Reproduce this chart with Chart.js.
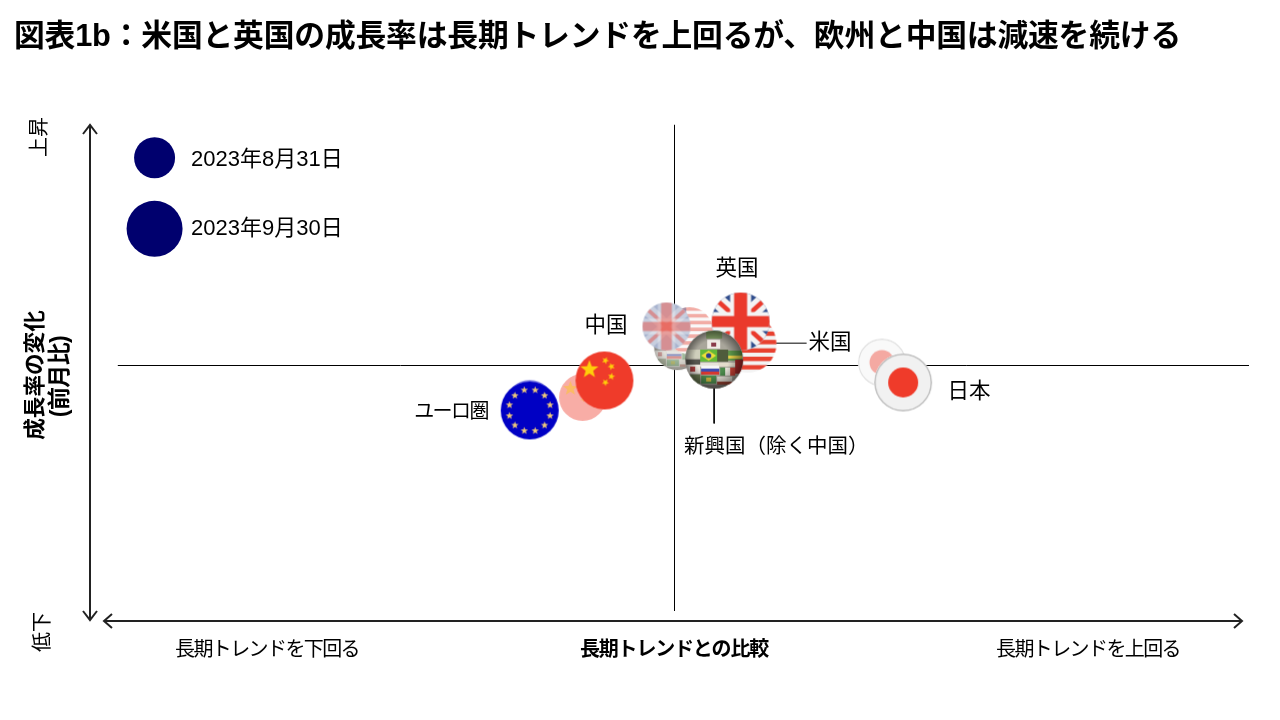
<!DOCTYPE html>
<html lang="ja">
<head>
<meta charset="utf-8">
<title>図表1b</title>
<script src="https://cdn.jsdelivr.net/npm/chart.js@4/dist/chart.umd.min.js"></script>
<style>
  html, body { margin: 0; background: #fff; }
  #wrap { position: relative; width: 1280px; height: 720px; overflow: hidden; }
  canvas { position: absolute; left: 0; top: 0; }
  h1 {
    position: absolute; left: 14px; top: 14px; margin: 0; white-space: nowrap;
    font: bold 30.8px/44px "Liberation Sans", "Noto Sans CJK JP", sans-serif;
    letter-spacing: -0.2px; color: #000; z-index: 2;
  }
</style>
</head>
<body>
<div id="wrap">
  <h1>図表1b：米国と英国の成長率は長期トレンドを上回るが、欧州と中国は減速を続ける</h1>
  <canvas id="chart" width="1280" height="720"></canvas>
</div>
<script>
// values, growth vs long term trend (x) and monthly change (y)
const countries = ['ユーロ圏', '中国', '日本', '米国', '英国', '新興国（除く中国）'];
const flagKeys = ['eu', 'cn', 'jp', 'us', 'uk', 'em'];
const augTrend = [-25.2, -16, 36.1, 2.6, -1.4, 0.5];
const augChange = [-15.4, -13, 1.2, 14.2, 15.9, 7.7];
const augSize = [23.5, 23.5, 24, 23.5, 24, 23.5];
const sepTrend = [-25.2, -12.2, 39.8, 12.7, 11.5, 6.9];
const sepChange = [-18.3, -6.1, -6.9, 8.9, 17.9, 2.4];
const sepSize = [29, 29, 29, 29, 29, 29];
const legendDates = ['2023年8月31日', '2023年9月30日'];
const legendTrend = [-90.5, -90.5];
const legendChange = [84.6, 55.7];
const legendSize = [20.5, 28];

const crossH = [{ x: -96.9, y: 0 }, { x: 100, y: 0 }];
const crossV = [{ x: 0, y: 98 }, { x: 0, y: -100 }];
const leaderUS = [{ x: 12.7, y: 9.1 }, { x: 23, y: 9.1 }];
const leaderEM = [{ x: 6.9, y: 2.4 }, { x: 6.9, y: -23.6 }];

// draw order of the bubbles, back to front, as they stack in the picture
const augDrawOrder = [0, 1, 2, 5, 3, 4];
const sepDrawOrder = [0, 1, 2, 3, 4, 5];

const jpFont = '"Liberation Sans", "Noto Sans CJK JP", sans-serif';

function star(g, cx, cy, r, rot) {
  g.beginPath();
  for (let i = 0; i < 10; i++) {
    const a = rot + i * Math.PI / 5 - Math.PI / 2;
    const d = i % 2 ? r * 0.42 : r;
    g.lineTo(cx + Math.cos(a) * d, cy + Math.sin(a) * d);
  }
  g.closePath();
  g.fill();
}

// painters work around 0,0 and a nominal radius of 29, the canvas scales them
const painters = {
  eu(g) {
    g.fillStyle = '#0000c4'; g.fillRect(-30, -30, 60, 60);
    g.fillStyle = '#ecc77a';
    for (let i = 0; i < 12; i++) {
      const a = i * Math.PI / 6 + Math.PI / 12;
      star(g, Math.cos(a) * 21, Math.sin(a) * 21, 3.9, 0);
    }
  },
  cn(g) {
    g.fillStyle = '#ef3b2a'; g.fillRect(-30, -30, 60, 60);
    g.fillStyle = '#ffcf0a';
    star(g, -15, -11, 9.5, 0);
    star(g, 1, -20, 3.8, 0.4);
    star(g, 7, -14, 3.8, 0.9);
    star(g, 7, -4, 3.8, 0.2);
    star(g, 1, 2, 3.8, 0.6);
  },
  jp(g) {
    g.fillStyle = '#f1f1f1'; g.fillRect(-30, -30, 60, 60);
    g.fillStyle = '#ef3b2a';
    g.beginPath(); g.arc(0, 0, 15, 0, Math.PI * 2); g.fill();
    g.strokeStyle = '#bdbdbd'; g.lineWidth = 1.5;
    g.beginPath(); g.arc(0, 0, 28.2, 0, Math.PI * 2); g.stroke();
  },
  us(g) {
    g.fillStyle = '#f3f3f3'; g.fillRect(-30, -30, 60, 60);
    g.fillStyle = '#e8402f';
    for (let y = -29; y < 30; y += 8.4) g.fillRect(-30, y, 60, 4.4);
    g.fillStyle = '#33508f'; g.fillRect(-30, -30, 26, 30);
  },
  uk(g) {
    g.fillStyle = '#2f4c8c'; g.fillRect(-30, -30, 60, 60);
    g.lineCap = 'butt';
    g.strokeStyle = '#f3f3f3'; g.lineWidth = 15;
    g.beginPath(); g.moveTo(-30, -27); g.lineTo(30, 27); g.moveTo(-30, 27); g.lineTo(30, -27); g.stroke();
    g.strokeStyle = '#ea3a2c'; g.lineWidth = 4.5;
    g.beginPath(); g.moveTo(-30, -27); g.lineTo(30, 27); g.moveTo(-30, 27); g.lineTo(30, -27); g.stroke();
    g.fillStyle = '#f3f3f3'; g.fillRect(-10.5, -30, 21, 60); g.fillRect(-30, -9.5, 60, 19);
    g.fillStyle = '#ea3a2c'; g.fillRect(-6.5, -30, 13, 60); g.fillRect(-30, -5.5, 60, 11);
  },
  em(g) {
    g.fillStyle = '#a9a69b'; g.fillRect(-30, -30, 60, 60);
    // patchwork of small flags on the globe
    const patch = (x, y, w, h, c) => { g.fillStyle = c; g.fillRect(x, y, w, h); };
    patch(-8, -30, 16, 9, '#7d9a62');
    patch(-7, -20, 13, 9, '#f0ece6'); patch(-3, -17, 5, 4, '#8a3b4a');
    patch(-28, -10, 14, 9, '#cfcfbc'); patch(3, -10, 11, 12, '#4f5c3c');
    patch(14, -9, 14, 10, '#5f9a4c'); patch(14, -4, 14, 3, '#e8d24a');
    patch(-28, 0, 14, 5, '#55554e'); patch(-14, 3, 18, 4, '#e6e2d9');
    patch(4, 3, 24, 4, '#e3dccc'); patch(21, 0, 9, 14, '#a62a2a');
    patch(-28, 5, 14, 9, '#ece7df'); patch(-24, 7, 5, 5, '#b04040');
    patch(-13, 6, 18, 3, '#f6f6f6'); patch(-13, 9, 18, 3, '#3f4cb0'); patch(-13, 12, 18, 3, '#d8382f');
    patch(6, 8, 15, 8, '#ece8de'); patch(6, 8, 5, 8, '#4b8a4b'); patch(16, 8, 5, 8, '#cc4236');
    patch(-24, 15, 10, 9, '#6a7a52'); patch(-13, 16, 15, 8, '#4f8f4f'); patch(-8, 18, 5, 4, '#d8c243');
    patch(3, 17, 15, 8, '#ebe6db'); patch(3, 22, 15, 3, '#9c4434');
    patch(-13, 25, 26, 5, '#85827a');
    patch(-14, -10, 17, 12, '#62b838');
    g.fillStyle = '#f0df3a';
    g.beginPath(); g.moveTo(-13, -4); g.lineTo(-5.5, -9); g.lineTo(2, -4); g.lineTo(-5.5, 1); g.closePath(); g.fill();
    g.fillStyle = '#26408f';
    g.beginPath(); g.arc(-5.5, -4, 2.6, 0, Math.PI * 2); g.fill();
    const shade = g.createRadialGradient(-2, -2, 17, 0, 0, 30);
    shade.addColorStop(0, 'rgba(0,0,0,0)');
    shade.addColorStop(1, 'rgba(0,0,0,0.5)');
    g.fillStyle = shade; g.fillRect(-30, -30, 60, 60);
  }
};

// bubble pointStyle canvas; washed is the faded look of the August bubbles
function makeFlag(key, r, washed) {
  const c = document.createElement('canvas');
  c.width = c.height = Math.ceil(r * 2) + 2;
  const g = c.getContext('2d');
  g.translate(c.width / 2, c.height / 2);
  g.beginPath(); g.arc(0, 0, r, 0, Math.PI * 2); g.closePath();
  g.fillStyle = '#fff'; g.fill();
  g.clip();
  g.scale(r / 29, r / 29);
  if (washed) g.globalAlpha = 0.42;
  painters[key](g);
  return c;
}

const augFlags = flagKeys.map((k, i) => makeFlag(k, augSize[i], true));
const sepFlags = flagKeys.map((k, i) => makeFlag(k, sepSize[i], false));

function toPoints(xs, ys, rs) {
  return xs.map((x, i) => ({ x: x, y: ys[i], r: rs[i] }));
}

function inOrder(points, drawOrder) {
  return drawOrder.map(i => Object.assign({ idx: i }, points[i]));
}

const lineStyle = { type: 'line', borderColor: '#000', borderWidth: 1, pointRadius: 0, clip: false, order: 5, parsing: false };

const labelsPlugin = {
  id: 'labelsPlugin',
  afterDraw(chart) {
    const g = chart.ctx;
    const put = (text, x, y, size, opts) => {
      const o = opts || {};
      g.save();
      g.translate(x, y);
      if (o.rot) g.rotate(o.rot);
      g.font = (o.bold ? 'bold ' : '') + size + 'px ' + jpFont;
      g.fillStyle = '#000';
      g.textAlign = o.align || 'center';
      g.textBaseline = 'middle';
      g.letterSpacing = (o.spacing || 0) + 'px';
      g.fillText(text, 0, 0);
      g.restore();
    };

    // legend dates
    put(legendDates[0], 191, 159.5, 22, { align: 'left' });
    put(legendDates[1], 191, 228.5, 22, { align: 'left' });

    // country names
    put(countries[0], 451, 412, 20, { spacing: -1.6 });
    put(countries[1], 606, 326.5, 21.5);
    put(countries[2], 969, 392.5, 21.5);
    put(countries[3], 830, 343.5, 21.5);
    put(countries[4], 737, 269.5, 21.5);
    put(countries[5], 684, 447.5, 20.5, { align: 'left' });

    // axis ends and names
    const up = -Math.PI / 2;
    put('上昇', 40, 137, 20, { rot: up });
    put('低下', 43, 632, 20, { rot: up });
    put('成長率の変化', 36, 375, 21.6, { rot: up, bold: true });
    put('(前月比)', 61, 376.5, 23, { rot: up, bold: true, spacing: -0.6 });
    put('長期トレンドを下回る', 267, 650, 20, { spacing: -1.6 });
    put('長期トレンドとの比較', 674, 650, 20, { bold: true, spacing: -1.2 });
    put('長期トレンドを上回る', 1088, 650, 20, { spacing: -1.6 });

    // the two long arrows
    g.save();
    g.strokeStyle = '#222';
    g.lineWidth = 2;
    g.beginPath();
    g.moveTo(90, 125); g.lineTo(90, 620);
    g.moveTo(83, 134); g.lineTo(90, 125); g.lineTo(97, 134);
    g.moveTo(83, 611); g.lineTo(90, 620); g.lineTo(97, 611);
    g.moveTo(104, 621); g.lineTo(1242, 621);
    g.moveTo(112, 614); g.lineTo(104, 621); g.lineTo(112, 628);
    g.moveTo(1234, 614); g.lineTo(1242, 621); g.lineTo(1234, 628);
    g.stroke();
    g.restore();
  }
};

new Chart(document.getElementById('chart'), {
  type: 'bubble',
  data: {
    datasets: [
      Object.assign({ label: 'crossH', data: crossH }, lineStyle),
      Object.assign({ label: 'crossV', data: crossV }, lineStyle),
      Object.assign({ label: 'leaderUS', data: leaderUS }, lineStyle),
      Object.assign({ label: 'leaderEM', data: leaderEM }, lineStyle),
      {
        label: legendDates[0],
        data: inOrder(toPoints(augTrend, augChange, augSize), augDrawOrder),
        radius: 0,
        pointStyle: ctx => augFlags[ctx.raw.idx],
        borderWidth: 0,
        order: 4
      },
      {
        label: legendDates[1],
        data: inOrder(toPoints(sepTrend, sepChange, sepSize), sepDrawOrder),
        radius: 0,
        pointStyle: ctx => sepFlags[ctx.raw.idx],
        borderWidth: 0,
        order: 3
      },
      {
        label: 'legend',
        data: toPoints(legendTrend, legendChange, legendSize),
        radius: 0,
        backgroundColor: '#00006e',
        borderWidth: 0,
        order: 2
      }
    ]
  },
  options: {
    responsive: false,
    animation: false,
    devicePixelRatio: 1,
    layout: { padding: { left: 100, right: 31, top: 120, bottom: 109 } },
    scales: {
      x: { display: false, min: -100, max: 100 },
      y: { display: false, min: -100, max: 100 }
    },
    plugins: { legend: { display: false }, tooltip: { enabled: false } }
  },
  plugins: [labelsPlugin]
});
</script>
</body>
</html>
